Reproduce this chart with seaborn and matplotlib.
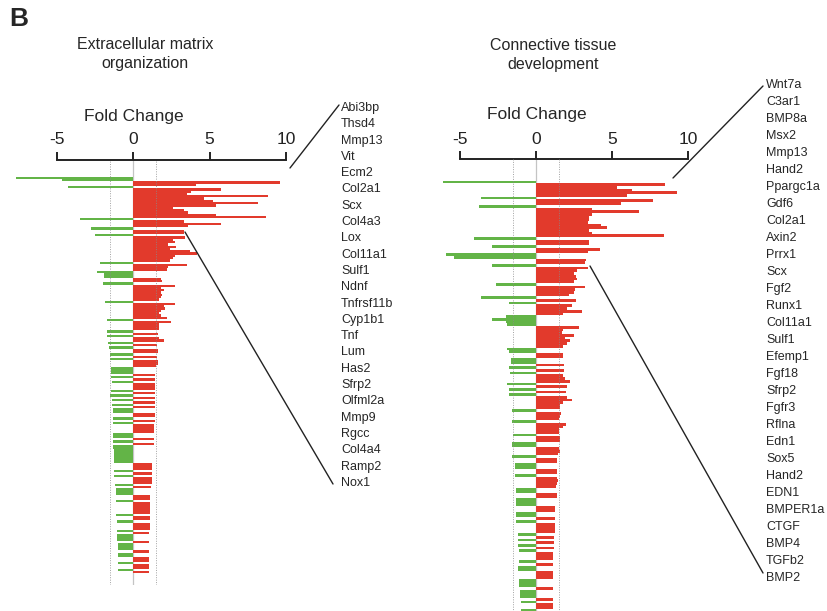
import numpy as np
import pandas as pd
import seaborn as sns
import matplotlib.pyplot as plt
from matplotlib.lines import Line2D

sns.set_theme(style="white")
plt.rcParams["font.family"] = ["Liberation Sans", "DejaVu Sans"]
plt.rcParams["axes.unicode_minus"] = False

# === Data: fold change per gene, sorted as in the figure (top -> bottom) ===
fc_ecm = [
    -7.7, -4.7, 9.6, 4.1, -4.3, 5.75, 3.8, 3.5, 8.8, 4.6, 5.2, 8.2, 5.4, 2.6, 3.3,
    3.6, 5.4, 8.7, -3.5, 3.3, 5.75, 3.6, -2.8, 3.3, 3.3, -2.5, 3.4, 2.6, 2.7, 2.3,
    2.8, 2.4, 3.7, 4.2, 2.7, 2.6, 2.4, -2.2, 3.5, 2.3, 2.2, -2.4, -1.9, -1.9, 1.8,
    1.9, -2.0, 2.7, 1.8, 2.0, 1.8, 1.9, 1.8, 1.7, -1.85, 2.7, 2.0, 2.1, 1.8, 1.7,
    1.8, 2.2, -1.75, 2.5, 1.7, 1.7, 1.7, -1.7, 1.6, -1.7, 1.7, 2.0, -1.65, 1.55,
    -1.6, 1.6, 1.6, -1.55, 1.55, -1.55, 1.6, 1.6, 1.5, -1.45, -1.45, -1.45, 1.45,
    -1.45, 1.45,
    -1.4, 1.45, 1.45, 1.45, -1.45, 1.45, -1.5, 1.45, -1.4, 1.45, -1.4, 1.45, -1.35,
    -1.35, 1.4, 1.4, -1.3, 1.4, -1.3, 1.35, 1.35, 1.35, 1.35, -1.3, -1.3, 1.35,
    -1.35, 1.35, -1.3, -1.3, -1.28, -1.28, -1.25, -1.25, -1.25, -1.25, 1.25, 1.25,
    1.25, -1.25, 1.25, -1.25, 1.2, 1.2, 1.2, -1.2, 1.15, -1.15, -1.15, -1.15, 1.1,
    1.1, -1.15, 1.1, 1.1, 1.1, 1.1, 1.1, -1.15, 1.1, 1.1, -1.05, 1.1, 1.1, 1.1,
    -1.05, 1.05, -1.05, -1.05, -1.05, 1.05, -1.0, -1.0, -1.0, 1.05, -1.0, -1.0,
    1.0, 1.0, -1.0, 1.0, 1.0, -1.0, 1.0,
]

fc_ctd = [
    -6.1, 8.5, 5.3, 6.3, 9.3, 6.0, -3.6, 7.7, 5.6, -3.75, 3.7, 6.8, 3.7, 3.5, 3.5,
    3.4, 4.3, 4.7, 3.5, 3.7, 8.4, -4.1, 3.5, 3.5, -2.9, 4.2, 3.4, -5.9, -5.4, 3.3,
    3.2, -2.9, 3.4, 2.7, 2.5, 2.65, 2.7, 2.5, -2.6, 3.2, 2.55, 2.5, 2.15, -3.65,
    2.6, -1.8, 2.4, 2.05, 3.0, 1.8, -2.0, -2.9, -2.0, -1.9, 2.8, 1.8, 1.7, 2.5,
    1.9, 2.25, 2.05, 1.8, -1.9, -1.8, 1.75, 1.8, -1.65, -1.65, 1.85, -1.8, 1.85,
    -1.7, 1.8, 1.9, 2.25, -1.9, 2.05, -1.8, 2.0,
    -1.8, 2.05, 2.4, 1.8, 1.6, 1.55, -1.55, 1.65, 1.6, 1.5, -1.55, 2.0, 1.75, 1.5,
    1.5, -1.5, 1.55, 1.55, -1.55, -1.55, 1.5, 1.55, 1.45, -1.6, 1.4, 1.4, -1.4,
    -1.4, 1.4, 1.4, -1.4, 1.4, 1.45, 1.35, 1.3, -1.3, -1.3, 1.35, 1.35, -1.3,
    -1.3, -1.3, 1.25, 1.25, -1.3, -1.3, 1.25, -1.3, 1.25, 1.25, 1.25, 1.25, -1.2,
    1.2, -1.2, 1.2, -1.2, 1.2, -1.1, 1.15, 1.15, 1.15, -1.1, 1.15, -1.2, -1.2,
    1.1, 1.1, 1.1, -1.1, -1.1, -1.1, 1.1, -1.05, -1.05, -1.05, 1.1, -1.0, 1.1,
    1.1, -1.0,
]

genes_ecm = ["Abi3bp", "Thsd4", "Mmp13", "Vit", "Ecm2", "Col2a1", "Scx", "Col4a3",
             "Lox", "Col11a1", "Sulf1", "Ndnf", "Tnfrsf11b", "Cyp1b1", "Tnf", "Lum",
             "Has2", "Sfrp2", "Olfml2a", "Mmp9", "Rgcc", "Col4a4", "Ramp2", "Nox1"]

genes_ctd = ["Wnt7a", "C3ar1", "BMP8a", "Msx2", "Mmp13", "Hand2", "Ppargc1a", "Gdf6",
             "Col2a1", "Axin2", "Prrx1", "Scx", "Fgf2", "Runx1", "Col11a1", "Sulf1",
             "Efemp1", "Fgf18", "Sfrp2", "Fgfr3", "Rflna", "Edn1", "Sox5", "Hand2",
             "EDN1", "BMPER1a", "CTGF", "BMP4", "TGFb2", "BMP2"]

titles = ["Extracellular matrix\norganization", "Connective tissue\ndevelopment"]
x_ticks = [-5, 0, 5, 10]
x_ticklabels = ["-5", "0", "5", "10"]
threshold = 1.5

RED = "#e23a2c"
GREEN = "#63b447"

# === Figure in pixel units ===
W, H = 828, 611
fig = plt.figure(figsize=(W / 100, H / 100), dpi=100)


def fx(px):
    return px / W


def fy(py):
    return 1 - py / H


def px_axes(left, top, right, bottom):
    return fig.add_axes([fx(left), fy(bottom), (right - left) / W, (bottom - top) / H])


def draw_panel(ax, values, xlim, top_px, bottom_px, first_px, last_px):
    df = pd.DataFrame({"row": np.arange(len(values)), "fc": values})
    df["dir"] = np.where(df["fc"] > 0, "up", "down")
    sns.barplot(data=df, x="fc", y="row", hue="dir", orient="y", native_scale=True,
                palette={"up": RED, "down": GREEN}, saturation=1, width=1.0,
                dodge=False, errorbar=None, legend=False, linewidth=0, ax=ax)
    step = (last_px - first_px) / (len(values) - 1)
    ax.set_ylim((bottom_px - first_px) / step, -(first_px - top_px) / step)
    ax.set_xlim(*xlim)

    # guide lines
    ax.axvline(0, color="#c4c4c4", lw=0.9, zorder=0.5)
    for t in (-threshold, threshold):
        ax.axvline(t, color="#8a8a8a", lw=0.7, ls=(0, (1, 1.5)), alpha=0.8, zorder=3)

    # top axis only
    for s in ["left", "right", "bottom"]:
        ax.spines[s].set_visible(False)
    ax.spines["top"].set_bounds(-5, 10)
    ax.spines["top"].set_color("#222222")
    ax.spines["top"].set_linewidth(1.4)
    ax.xaxis.tick_top()
    ax.set_xticks(x_ticks)
    ax.set_xticklabels(x_ticklabels)
    ax.tick_params(axis="x", direction="out", length=6, width=1.4, color="#222222",
                   labelsize=12.5, pad=3, labelcolor="#222222")
    ax.set_yticks([])
    ax.set_xlabel("")
    ax.set_ylabel("")


# === Panel 1: extracellular matrix organization ===
ax1 = px_axes(3.5, 160, 293.6, 585)
draw_panel(ax1, fc_ecm, (-8.5, 10.5), 160, 585, 178, 572)

# === Panel 2: connective tissue development ===
ax2 = px_axes(429.6, 159, 695.6, 640)
draw_panel(ax2, fc_ctd, (-7, 10.5), 159, 640, 182, 610)

# === Text ===
fig.text(fx(9), fy(19), "B", fontsize=19, fontweight="bold", ha="left", va="center")
fig.text(fx(145), fy(54), titles[0], fontsize=11.5, ha="center", va="center",
         linespacing=1.35)
fig.text(fx(553), fy(55), titles[1], fontsize=11.5, ha="center", va="center",
         linespacing=1.35)
fig.text(fx(134), fy(117), "Fold Change", fontsize=12.5, ha="center", va="center")
fig.text(fx(537), fy(115), "Fold Change", fontsize=12.5, ha="center", va="center")

for i, g in enumerate(genes_ecm):
    fig.text(fx(341), fy(108 + 16.3 * i), g, fontsize=9, ha="left", va="center")
for i, g in enumerate(genes_ctd):
    fig.text(fx(766), fy(85 + 17.0 * i), g, fontsize=9, ha="left", va="center")

# === Connector lines ===
connectors = [((290, 168), (339, 105)), ((185, 232), (333, 484)),
              ((673, 178), (763, 86)), ((590, 266), (763, 573))]
for (x1, y1), (x2, y2) in connectors:
    fig.add_artist(Line2D([fx(x1), fx(x2)], [fy(y1), fy(y2)], color="#222222", lw=1))

plt.savefig("out.png", dpi=100)
